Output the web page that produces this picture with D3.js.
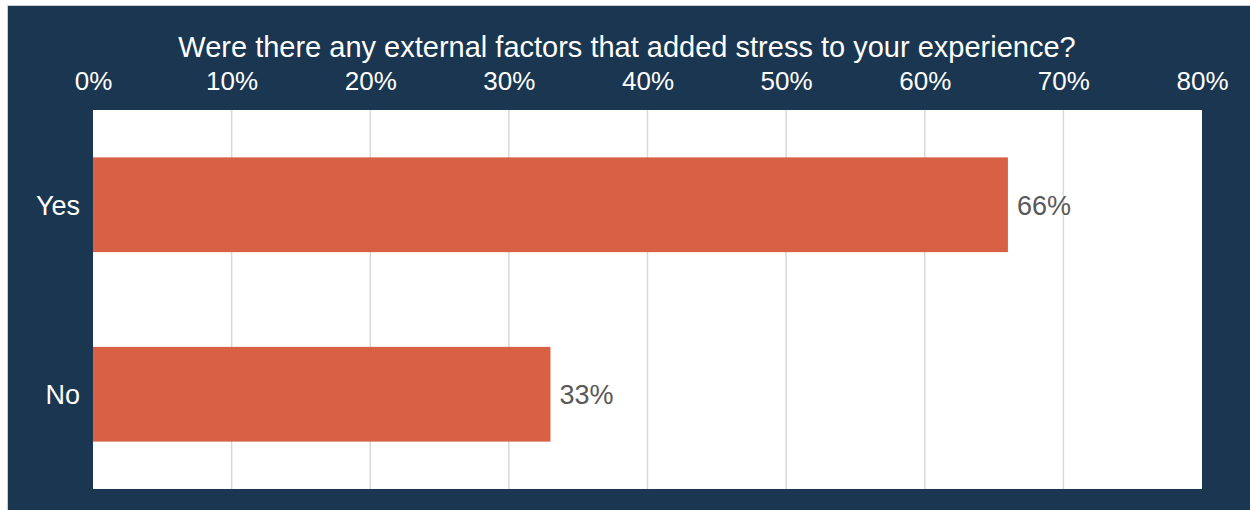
<!DOCTYPE html>
<html>
<head>
<meta charset="utf-8">
<script src="https://cdn.jsdelivr.net/npm/d3@7"></script>
<style>
  body { margin: 0; background: #ffffff; }
  text { font-family: "Liberation Sans", Arial, sans-serif; }
</style>
</head>
<body>
<svg id="chart" width="1250" height="510"></svg>
<script>
// chart data
const categories = ["Yes", "No"];
const values = [0.66, 0.33];
const ticks = [0, 0.1, 0.2, 0.3, 0.4, 0.5, 0.6, 0.7, 0.8];
const title = "Were there any external factors that added stress to your experience?";

const svg = d3.select("#chart");
const width = +svg.attr("width");
const height = +svg.attr("height");

// plot area
const margin = { top: 110, right: 48, bottom: 21, left: 93 };

// dark background panel
svg.append("rect")
    .attr("x", 7.5).attr("y", 5.5)
    .attr("width", width).attr("height", height)
    .attr("fill", "#1a3650")
    .attr("stroke", "#c9cfd6")
    .attr("stroke-width", 1);

const x = d3.scaleLinear()
    .domain([0, 0.8])
    .range([margin.left, width - margin.right]);

const y = d3.scaleBand()
    .domain(categories)
    .range([margin.top, height - margin.bottom])
    .paddingInner(0.5)
    .paddingOuter(0.25);

// white plot area
svg.append("rect")
    .attr("x", margin.left).attr("y", margin.top)
    .attr("width", x.range()[1] - margin.left)
    .attr("height", height - margin.bottom - margin.top)
    .attr("fill", "#ffffff");

// gridlines
svg.append("g")
    .selectAll("line")
    .data(ticks.slice(1, -1))
    .enter().append("line")
    .attr("x1", d => x(d)).attr("x2", d => x(d))
    .attr("y1", margin.top).attr("y2", height - margin.bottom)
    .attr("stroke", "#d9d9d9")
    .attr("stroke-width", 1.5);

// top axis labels
const axis = svg.append("g")
    .attr("transform", "translate(0," + (margin.top - 20) + ")")
    .call(d3.axisTop(x).tickValues(ticks).tickFormat(d3.format(".0%")).tickSize(0).tickPadding(0));
axis.select(".domain").remove();
axis.selectAll("text")
    .attr("fill", "#ffffff")
    .attr("font-size", "26px");

// title
svg.append("text")
    .attr("x", 627)
    .attr("y", 57)
    .attr("text-anchor", "middle")
    .attr("fill", "#ffffff")
    .attr("font-size", "29px")
    .text(title);

// bars
svg.append("g")
    .selectAll("rect")
    .data(values)
    .enter().append("rect")
    .attr("x", x(0))
    .attr("y", (d, i) => y(categories[i]))
    .attr("width", d => x(d) - x(0))
    .attr("height", y.bandwidth())
    .attr("fill", "#d76045");

// value labels
svg.append("g")
    .selectAll("text")
    .data(values)
    .enter().append("text")
    .attr("x", d => x(d) + 9)
    .attr("y", (d, i) => y(categories[i]) + y.bandwidth() / 2)
    .attr("dy", "0.37em")
    .attr("fill", "#595959")
    .attr("font-size", "27px")
    .text(d => Math.round(d * 100) + "%");

// category labels
svg.append("g")
    .selectAll("text")
    .data(categories)
    .enter().append("text")
    .attr("x", margin.left - 13)
    .attr("y", d => y(d) + y.bandwidth() / 2)
    .attr("dy", "0.37em")
    .attr("text-anchor", "end")
    .attr("fill", "#ffffff")
    .attr("font-size", "27px")
    .text(d => d);
</script>
</body>
</html>
